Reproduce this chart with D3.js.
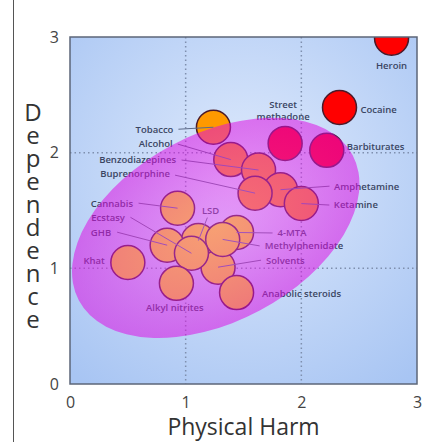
<!DOCTYPE html>
<html>
<head>
<meta charset="utf-8">
<script src="https://cdn.jsdelivr.net/npm/d3@7"></script>
<style>
  body { margin: 0; background: #fff; }
  svg { display: block; font-family: 'Open Sans', sans-serif; }
</style>
</head>
<body>
<script>

// drugs, physical harm (x) and dependence (y)
var drugs = ['Heroin', 'Cocaine', 'Barbiturates', 'Street methadone', 'Tobacco',
             'Alcohol', 'Benzodiazepines', 'Amphetamine', 'Buprenorphine', 'Ketamine',
             'Cannabis', 'LSD', '4-MTA', 'GHB', 'Solvents',
             'Methylphenidate', 'Ecstasy', 'Khat', 'Alkyl nitrites', 'Anabolic steroids'];
var physicalHarm = [2.78, 2.33, 2.22, 1.86, 1.24,
                    1.39, 1.63, 1.82, 1.60, 2.00,
                    0.93, 1.11, 1.44, 0.84, 1.28,
                    1.32, 1.05, 0.50, 0.92, 1.44];
var dependence   = [2.99, 2.39, 2.02, 2.08, 2.22,
                    1.94, 1.85, 1.68, 1.65, 1.56,
                    1.52, 1.24, 1.31, 1.20, 1.01,
                    1.25, 1.13, 1.05, 0.87, 0.79];

var xTicks = [0, 1, 2, 3];
var yTicks = [0, 1, 2, 3];
var gridValues = [1, 2];

// highlighted region, in data units
var regionCenter = [1.26, 1.35];
var regionAxes   = [1.34, 0.81];
var regionAngle  = -28;

var width  = 442;
var height = 442;
var margin = { top: 37, right: 25, bottom: 58, left: 70 };
var plotW  = width - margin.left - margin.right;
var plotH  = height - margin.top - margin.bottom;

// label placement relative to circle centre: dx, dy, anchor, leader start
var labelLayout = {
  'Heroin':            [0, 28, 'middle', null],
  'Cocaine':           [21, 2, 'start', null],
  'Barbiturates':      [20, -4, 'start', null],
  'Street methadone':  [-2, -39, 'middle', null],
  'Tobacco':           [-40, 2, 'end', [-35, 2]],
  'Alcohol':           [-58, -15.5, 'end', [-53, -15.5]],
  'Benzodiazepines':   [-82.5, -10, 'end', [-77, -10]],
  'Buprenorphine':     [-85, -19, 'end', [-80, -18]],
  'Cannabis':          [-44.5, -5, 'end', [-39, -5]],
  'Ecstasy':           [-66.5, -36, 'end', [-61, -36]],
  'GHB':               [-56, -13, 'end', [-50, -13]],
  'Khat':              [-23, -1.5, 'end', null],
  'LSD':               [3.5, -30, 'start', [9, -23]],
  '4-MTA':             [41, 0.5, 'start', [36, 0.5]],
  'Methylphenidate':   [42, 6.5, 'start', [37, 6.5]],
  'Solvents':          [48, -7, 'start', [43, -7]],
  'Anabolic steroids': [25.5, 1.5, 'start', null],
  'Alkyl nitrites':    [-1.5, 24.5, 'middle', null],
  'Amphetamine':       [53.5, -3.5, 'start', [49, -3.5]],
  'Ketamine':          [32.5, 1.5, 'start', [28, 1.5]]
};

var points = drugs.map(function(name, i){
  return { name: name, x: physicalHarm[i], y: dependence[i] };
});

var x = d3.scaleLinear().domain([0, 3]).range([0, plotW]);
var y = d3.scaleLinear().domain([0, 3]).range([plotH, 0]);

var colour = d3.scaleThreshold()
               .domain([3.0, 3.8])
               .range(['#ffee00', '#ff9900', '#ff0000']);

var svg = d3.select('body')
            .append('svg')
            .attr('width', width)
            .attr('height', height);

var defs = svg.append('defs');

var bgGrad = defs.append('radialGradient')
                 .attr('id', 'bg')
                 .attr('cx', '0.5').attr('cy', '0.4').attr('r', '0.75');
bgGrad.append('stop').attr('offset', '0%').attr('stop-color', '#dfeafc');
bgGrad.append('stop').attr('offset', '100%').attr('stop-color', '#a8c5f3');

var elGrad = defs.append('radialGradient')
                 .attr('id', 'region')
                 .attr('cx', '0.5').attr('cy', '0.5').attr('r', '0.5');
elGrad.append('stop').attr('offset', '0%')
      .attr('stop-color', 'rgb(238,70,245)').attr('stop-opacity', 0.47);
elGrad.append('stop').attr('offset', '100%')
      .attr('stop-color', 'rgb(222,10,228)').attr('stop-opacity', 0.53);

defs.append('clipPath')
    .attr('id', 'plotclip')
    .append('rect')
    .attr('width', plotW)
    .attr('height', plotH);

// page edge line at the left
svg.append('line')
   .attr('x1', 13.5).attr('x2', 13.5)
   .attr('y1', 0).attr('y2', height)
   .attr('stroke', '#555')
   .attr('stroke-width', 1);

var g = svg.append('g')
           .attr('transform', 'translate(' + margin.left + ',' + margin.top + ')');

g.append('rect')
 .attr('width', plotW)
 .attr('height', plotH)
 .attr('fill', 'url(#bg)');

var plot = g.append('g').attr('clip-path', 'url(#plotclip)');

// dotted grid
plot.selectAll('line.vgrid')
    .data(gridValues)
    .enter()
    .append('line')
    .attr('class', 'vgrid')
    .attr('x1', function(d){ return x(d); })
    .attr('x2', function(d){ return x(d); })
    .attr('y1', 0)
    .attr('y2', plotH)
    .attr('stroke', '#7f8fae')
    .attr('stroke-width', 1.5)
    .attr('stroke-dasharray', '1.5,3');

plot.selectAll('line.hgrid')
    .data(gridValues)
    .enter()
    .append('line')
    .attr('class', 'hgrid')
    .attr('x1', 0)
    .attr('x2', plotW)
    .attr('y1', function(d){ return y(d); })
    .attr('y2', function(d){ return y(d); })
    .attr('stroke', '#7f8fae')
    .attr('stroke-width', 1.5)
    .attr('stroke-dasharray', '1.5,3');

plot.selectAll('circle')
    .data(points)
    .enter()
    .append('circle')
    .attr('cx', function(d){ return x(d.x); })
    .attr('cy', function(d){ return y(d.y); })
    .attr('r', 17)
    .attr('fill', function(d){ return colour(d.x + d.y); })
    .attr('stroke', '#4a1a2a')
    .attr('stroke-width', 1.5);

// leader lines
plot.selectAll('line.leader')
    .data(points.filter(function(d){ return labelLayout[d.name][3]; }))
    .enter()
    .append('line')
    .attr('class', 'leader')
    .attr('x1', function(d){ return x(d.x) + labelLayout[d.name][3][0]; })
    .attr('y1', function(d){ return y(d.y) + labelLayout[d.name][3][1]; })
    .attr('x2', function(d){ return x(d.x); })
    .attr('y2', function(d){ return y(d.y); })
    .attr('stroke', '#5d6a88')
    .attr('stroke-width', 1);

var labels = plot.selectAll('text.label')
    .data(points)
    .enter()
    .append('text')
    .attr('class', 'label')
    .attr('x', function(d){ return x(d.x) + labelLayout[d.name][0]; })
    .attr('y', function(d){ return y(d.y) + labelLayout[d.name][1]; })
    .attr('text-anchor', function(d){ return labelLayout[d.name][2]; })
    .attr('font-size', '9.5px')
    .attr('font-weight', 600)
    .attr('fill', '#3a4562');

labels.each(function(d){
  var words = d.name === 'Street methadone' ? ['Street', 'methadone'] : [d.name];
  var t = d3.select(this);
  words.forEach(function(w, i){
    t.append('tspan')
     .attr('x', t.attr('x'))
     .attr('dy', i === 0 ? '0.35em' : '1.3em')
     .text(w);
  });
});

// translucent region drawn over everything in the plot
plot.append('ellipse')
    .attr('transform', 'translate(' + x(regionCenter[0]) + ',' + y(regionCenter[1]) + ') rotate(' + regionAngle + ')')
    .attr('rx', x(regionAxes[0]) - x(0))
    .attr('ry', x(regionAxes[1]) - x(0))
    .attr('fill', 'url(#region)');

g.append('rect')
 .attr('width', plotW)
 .attr('height', plotH)
 .attr('fill', 'none')
 .attr('stroke', '#5c6678')
 .attr('stroke-width', 1.5);

// axes
var xAxis = g.append('g')
             .attr('transform', 'translate(0,' + plotH + ')')
             .call(d3.axisBottom(x).tickValues(xTicks).tickSize(0).tickPadding(13).tickFormat(d3.format('d')));
var yAxis = g.append('g')
             .call(d3.axisLeft(y).tickValues(yTicks).tickSize(0).tickPadding(11).tickFormat(d3.format('d')));

[xAxis, yAxis].forEach(function(a){
  a.select('.domain').remove();
  a.selectAll('text')
   .attr('font-family', "'Open Sans', sans-serif")
   .attr('font-size', '16px')
   .attr('fill', '#444');
});

svg.append('text')
   .attr('x', margin.left + plotW / 2)
   .attr('y', 435)
   .attr('text-anchor', 'middle')
   .attr('font-size', '23px')
   .attr('fill', '#333')
   .text('Physical Harm');

// vertical axis title, one upright letter per row
svg.selectAll('text.ytitle')
   .data('Dependence'.split(''))
   .enter()
   .append('text')
   .attr('class', 'ytitle')
   .attr('x', 33)
   .attr('y', function(d, i){ return 113 + i * 23; })
   .attr('dy', '0.35em')
   .attr('text-anchor', 'middle')
   .attr('font-size', '24px')
   .attr('fill', '#333')
   .text(function(d){ return d; });

</script>
</body>
</html>
